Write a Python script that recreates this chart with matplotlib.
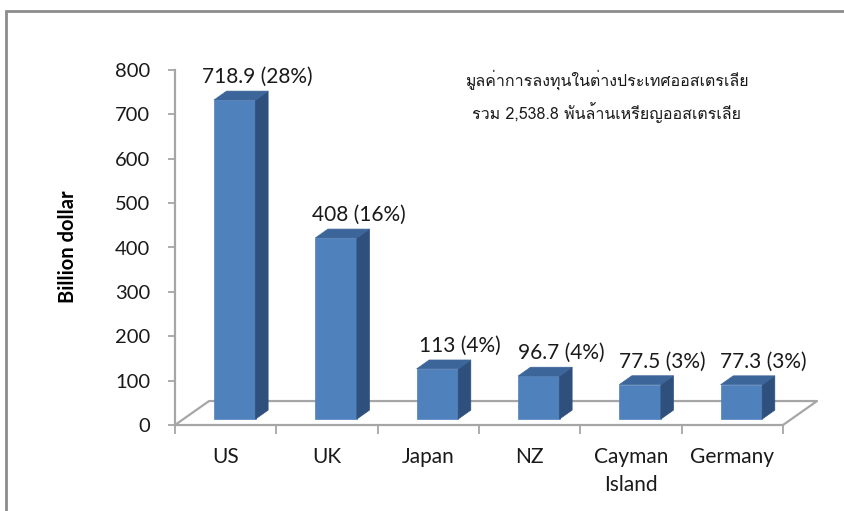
import matplotlib
matplotlib.use("Agg")
import matplotlib.pyplot as plt
from matplotlib.patches import Polygon, Rectangle
from matplotlib import font_manager
from matplotlib.ft2font import FT2Font

# data
countries = ["US", "UK", "Japan", "NZ", "Cayman\nIsland", "Germany"]
values = [718.9, 408, 113, 96.7, 77.5, 77.3]
shares = ["28%", "16%", "4%", "4%", "3%", "3%"]
value_text = ["718.9", "408", "113", "96.7", "77.5", "77.3"]
note_line1 = "มูลค่าการลงทุนในต่างประเทศออสเตรเลีย"
note_line2 = "รวม 2,538.8 พันล้านเหรียญออสเตรเลีย"


def find_thai_font():
    for f in font_manager.fontManager.ttflist:
        try:
            cmap = FT2Font(f.fname).get_charmap()
        except Exception:
            continue
        if ord("ม") in cmap and ord("A") in cmap:
            return f.name
    return "DejaVu Sans"


thai_font = find_thai_font()
plt.rcParams["font.family"] = ["Lato", "DejaVu Sans"]

front_col = "#4F81BD"
side_col = "#2F4F7C"
top_col = "#3C6599"
grey = "#A6A6A6"
txt = "#1a1a1a"

fig = plt.figure(figsize=(8.45, 5.11), dpi=100)
ax = fig.add_axes([175 / 845, 86 / 511, 608 / 845, 355 / 511])
ax.set_xlim(-0.5, 5.5)
ax.set_ylim(0, 800)

# 3d look (in data units)
floor_dx, floor_dy = 0.336, 54
base = 13.5
off = 0.09
width = 0.41
bar_dx, bar_dy = 0.124, 20

# floor
n = len(values)
fx = [-0.5, -0.5 + floor_dx, n - 0.5 + floor_dx, n - 0.5]
fy = [0, floor_dy, floor_dy, 0]
ax.plot(fx, fy, color=grey, lw=1.6, clip_on=False, zorder=1)

for i, v in enumerate(values):
    xl = i + off - width / 2
    xr = i + off + width / 2
    ax.bar(i + off, v, width=width, bottom=base, color=front_col,
           edgecolor=front_col, lw=0.5, zorder=3, clip_on=False)
    side = Polygon([(xr, base), (xr + bar_dx, base + bar_dy),
                    (xr + bar_dx, base + bar_dy + v), (xr, base + v)],
                   closed=True, facecolor=side_col, edgecolor=side_col,
                   lw=0.5, zorder=3, clip_on=False)
    top = Polygon([(xl, base + v), (xr, base + v),
                   (xr + bar_dx, base + v + bar_dy), (xl + bar_dx, base + v + bar_dy)],
                  closed=True, facecolor=top_col, edgecolor=top_col,
                  lw=0.5, zorder=3, clip_on=False)
    ax.add_patch(side)
    ax.add_patch(top)
    ax.annotate(f"{value_text[i]} ({shares[i]})", (i + 0.31, base + v + bar_dy),
                xytext=(0, 3), textcoords="offset points", ha="center", va="bottom",
                fontsize=15, color=txt, annotation_clip=False)

# axes styling
for s in ["top", "right"]:
    ax.spines[s].set_visible(False)
ax.spines["left"].set_color(grey)
ax.spines["left"].set_linewidth(1.6)
ax.spines["bottom"].set_color(grey)
ax.spines["bottom"].set_linewidth(1.6)
ax.set_yticks(range(0, 801, 100))
ax.tick_params(axis="y", length=5, width=1.3, color=grey, pad=13,
               labelsize=14.5, labelcolor=txt)
ax.set_xticks(range(n))
ax.set_xticklabels(countries, linespacing=1.5)
ax.set_xticks([i - 0.5 for i in range(n + 1)], minor=True)
ax.tick_params(axis="x", which="major", length=0, pad=16, labelsize=15,
               labelcolor=txt)
ax.tick_params(axis="x", which="minor", length=6.5, width=1.3, color=grey)
ax.patch.set_visible(False)

fig.text(68 / 845, 1 - 247 / 511, "Billion dollar", rotation=90, fontweight="bold",
         ha="center", va="center", fontsize=14.5, color="#000000")

fig.text(607 / 845, 1 - 80 / 511, note_line1, ha="center", va="center",
         fontsize=11.5, family=[thai_font, "DejaVu Sans"], color=txt)
fig.text(607 / 845, 1 - 113 / 511, note_line2, ha="center", va="center",
         fontsize=11.5, family=[thai_font, "DejaVu Sans"], color=txt)

# outer frame
fig.patches.append(Rectangle((6 / 845, -0.1), 2, 1 - 11 / 511 + 0.1,
                             transform=fig.transFigure, fill=False,
                             edgecolor="#8C8C8C", lw=2))

fig.savefig("out.png", dpi=100)
